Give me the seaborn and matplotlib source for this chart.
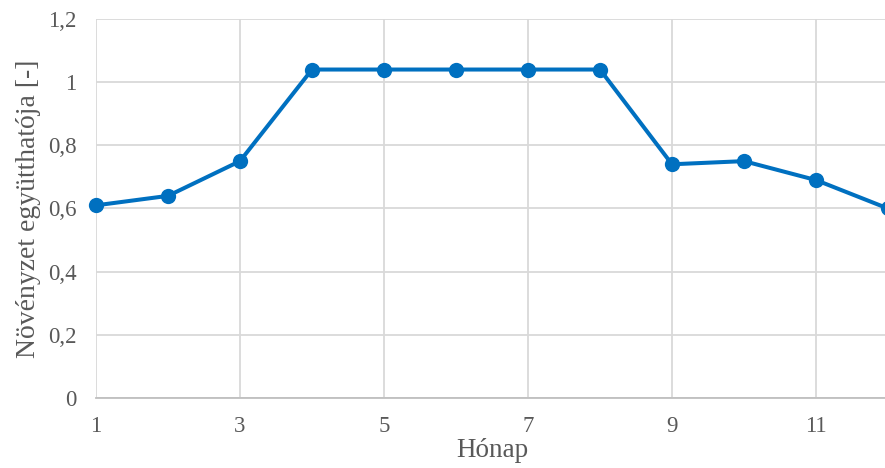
import matplotlib
matplotlib.use("Agg")
import matplotlib.pyplot as plt
import seaborn as sns
import pandas as pd
from matplotlib.ticker import FuncFormatter

# havi növényzeti együttható
honap = [1, 2, 3, 4, 5, 6, 7, 8, 9, 10, 11, 12]
egyutthato = [0.61, 0.64, 0.75, 1.04, 1.04, 1.04, 1.04, 1.04, 0.74, 0.75, 0.69, 0.60]
x_ticks = [1, 3, 5, 7, 9, 11]
y_ticks = [0, 0.2, 0.4, 0.6, 0.8, 1.0, 1.2]

df = pd.DataFrame({"honap": honap, "egyutthato": egyutthato})

sns.set_theme(style="white")
plt.rcParams["font.family"] = ["Liberation Serif", "DejaVu Serif"]

fig = plt.figure(figsize=(8.85, 4.68), dpi=100)
ax = fig.add_axes([96 / 885, 1 - 398 / 468, (888 - 96) / 885, (398 - 19) / 468])

sns.lineplot(data=df, x="honap", y="egyutthato", ax=ax, color="#0070C0",
             linewidth=2.9, marker="o", markersize=11, markeredgewidth=0,
             clip_on=False, zorder=3)

ax.set_xlim(1, 12)
ax.set_ylim(0, 1.2)
ax.set_xticks(x_ticks)
ax.set_yticks(y_ticks)
ax.yaxis.set_major_formatter(FuncFormatter(lambda v, p: f"{v:g}".replace(".", ",")))

ax.grid(True, color="#D9D9D9", linewidth=1.3)
ax.set_axisbelow(True)
for s in ["top", "right", "left"]:
    ax.spines[s].set_visible(False)
ax.spines["bottom"].set_color("#BFBFBF")
ax.spines["bottom"].set_linewidth(1.3)
ax.tick_params(axis="both", length=0, labelsize=16.5, colors="#595959")
ax.tick_params(axis="x", pad=13)
ax.tick_params(axis="y", pad=14)

ax.set_xlabel("Hónap", fontsize=19.5, color="#595959", labelpad=1)
ax.set_ylabel("Növényzet együtthatója [-]", fontsize=20, color="#595959", labelpad=5)

fig.savefig("out.png", dpi=100)
